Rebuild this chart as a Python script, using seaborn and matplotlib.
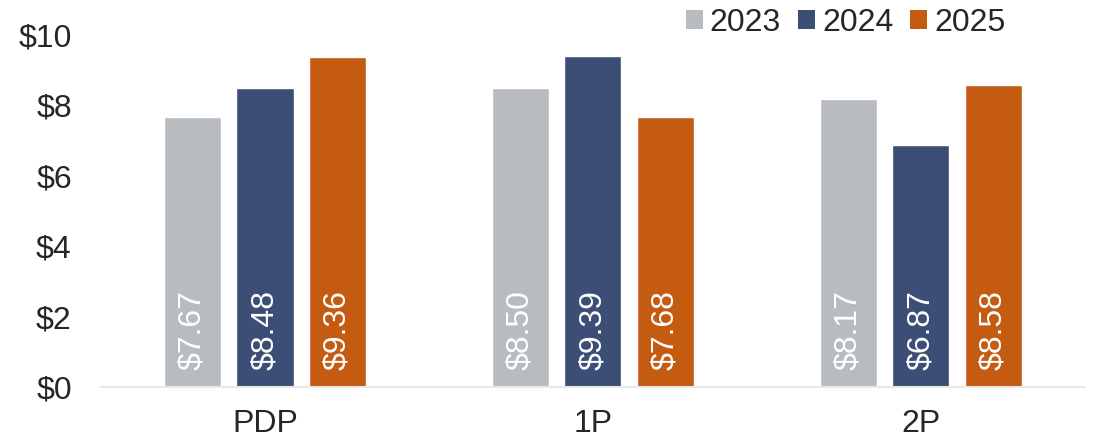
import matplotlib
matplotlib.use("Agg")
import matplotlib.pyplot as plt
from matplotlib.patches import Patch
import seaborn as sns
import pandas as pd

categories = ["PDP", "1P", "2P"]
years = ["2023", "2024", "2025"]
values_2023 = [7.67, 8.50, 8.17]
values_2024 = [8.48, 9.39, 6.87]
values_2025 = [9.36, 7.68, 8.58]
y_ticks = [0, 2, 4, 6, 8, 10]

colors = ["#B8BCC0", "#3C4E75", "#C55A11"]
text_color = "#262626"
fs = 23

rows = []
for yr, vals in zip(years, [values_2023, values_2024, values_2025]):
    for cat, v in zip(categories, vals):
        rows.append({"category": cat, "year": yr, "value": v})
df = pd.DataFrame(rows)

sns.set_style("white")
plt.rcParams["font.family"] = ["Liberation Sans", "DejaVu Sans"]

fig = plt.figure(figsize=(10.99, 4.42), dpi=100)
ax = fig.add_axes([0.0919, 0.1244, 0.8951, 0.7966])

sns.barplot(data=df, x="category", y="value", hue="year", order=categories,
            hue_order=years, palette=colors, width=0.663, gap=0.21,
            saturation=1, errorbar=None, legend=False, ax=ax)

ax.set_xlim(-0.5, 2.5)
ax.set_ylim(0, 10)
ax.set_yticks(y_ticks)
ax.set_yticklabels([f"${t}" for t in y_ticks])
ax.set_xlabel("")
ax.set_ylabel("")
ax.tick_params(axis="both", length=0, labelsize=fs, colors=text_color)
ax.tick_params(axis="y", pad=21)
ax.tick_params(axis="x", pad=16)

for side in ["left", "right", "top"]:
    ax.spines[side].set_visible(False)
ax.spines["bottom"].set_color("#E8E8E8")
ax.spines["bottom"].set_linewidth(1.5)

# value labels written upward from the base of each bar
for container in ax.containers:
    for patch in container:
        h = patch.get_height()
        ax.annotate(f"${h:.2f}", xy=(patch.get_x() + patch.get_width() / 2, 0),
                    xytext=(0, 12), textcoords="offset points",
                    rotation=90, ha="center", va="bottom",
                    color="white", fontsize=fs)

handles = [Patch(facecolor=c, edgecolor="none") for c in colors]
fig.legend(handles, years, loc="center right", bbox_to_anchor=(0.941, 0.949),
           ncol=3, frameon=False, fontsize=fs, handlelength=0.53,
           handleheight=0.53, handletextpad=0.22, columnspacing=0.53,
           labelcolor=text_color)

fig.savefig("out.png", dpi=100)
